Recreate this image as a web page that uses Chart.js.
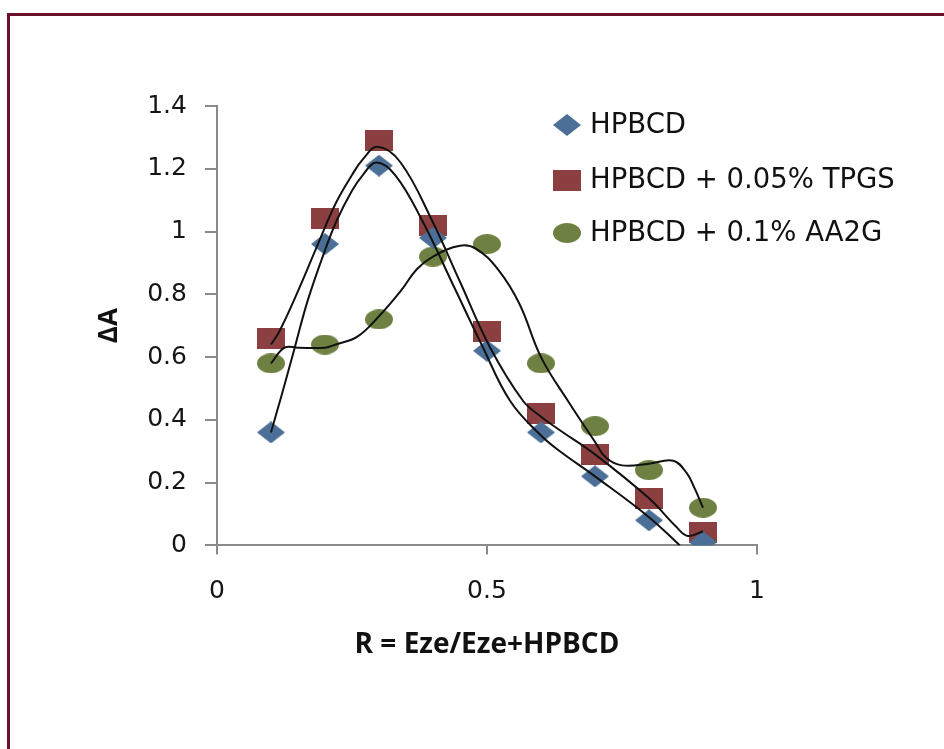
<!DOCTYPE html>
<html>
<head>
<meta charset="utf-8">
<script src="https://cdn.jsdelivr.net/npm/chart.js@4.4.1/dist/chart.umd.min.js"></script>
<style>
  html, body { margin: 0; padding: 0; background: #fff; }
  #wrap { position: relative; width: 944px; height: 749px; background: #fff; }
  #frame {
    position: absolute; left: 7px; top: 13px; right: 0; bottom: 0;
    border-top: 3px solid #6b0f2b; border-left: 3px solid #6b0f2b;
  }
  #chart { position: absolute; left: 0; top: 0; }
</style>
</head>
<body>
<div id="wrap">
  <div id="frame"></div>
  <canvas id="chart" width="944" height="749"></canvas>
</div>
<script>
// measured ratios R and absorbance change for each formulation
const rValues = [0.1, 0.2, 0.3, 0.4, 0.5, 0.6, 0.7, 0.8, 0.9];
const hpbcd = [0.36, 0.96, 1.21, 0.98, 0.62, 0.36, 0.22, 0.08, 0.01];
const hpbcdTpgs = [0.66, 1.04, 1.29, 1.02, 0.68, 0.42, 0.29, 0.15, 0.04];
const hpbcdAa2g = [0.58, 0.64, 0.72, 0.92, 0.96, 0.58, 0.38, 0.24, 0.12];

// fitted curves
const hpbcdFitR = [0.1, 0.12, 0.144, 0.168, 0.2, 0.222, 0.25, 0.27, 0.295, 0.33, 0.38, 0.44, 0.49, 0.543, 0.6, 0.635, 0.7, 0.8, 0.857];
const hpbcdFitA = [0.36, 0.48, 0.63, 0.78, 0.94, 1.036, 1.13, 1.18, 1.22, 1.18, 1.035, 0.82, 0.64, 0.46, 0.35, 0.30, 0.22, 0.09, 0.0];
const tpgsFitR = [0.1, 0.115, 0.15, 0.187, 0.22, 0.25, 0.27, 0.298, 0.34, 0.398, 0.45, 0.506, 0.567, 0.6, 0.635, 0.7, 0.8, 0.85, 0.872, 0.9];
const tpgsFitA = [0.64, 0.68, 0.81, 0.96, 1.09, 1.18, 1.23, 1.27, 1.22, 1.036, 0.84, 0.63, 0.46, 0.41, 0.367, 0.29, 0.15, 0.06, 0.03, 0.045];
const aa2gFitR = [0.1, 0.125, 0.15, 0.2, 0.22, 0.26, 0.3, 0.34, 0.37, 0.4, 0.45, 0.48, 0.52, 0.56, 0.6, 0.65, 0.7, 0.72, 0.75, 0.8, 0.845, 0.87, 0.885, 0.9];
const aa2gFitA = [0.58, 0.63, 0.63, 0.63, 0.64, 0.665, 0.73, 0.81, 0.88, 0.92, 0.955, 0.945, 0.88, 0.77, 0.6, 0.46, 0.33, 0.28, 0.255, 0.26, 0.27, 0.23, 0.18, 0.12];

const seriesNames = ['HPBCD', 'HPBCD + 0.05% TPGS', 'HPBCD + 0.1% AA2G'];
const xTickValues = [0, 0.5, 1];
const yTickValues = [0, 0.2, 0.4, 0.6, 0.8, 1, 1.2, 1.4];

function toPoints(xs, ys) {
  return xs.map((x, i) => ({ x: x, y: ys[i] }));
}

// wide markers drawn on small canvases
function makeMarker(shape, w, h, color) {
  const c = document.createElement('canvas');
  c.width = w;
  c.height = h;
  const g = c.getContext('2d');
  g.fillStyle = color;
  g.beginPath();
  if (shape === 'diamond') {
    g.moveTo(w / 2, 0);
    g.lineTo(w, h / 2);
    g.lineTo(w / 2, h);
    g.lineTo(0, h / 2);
    g.closePath();
  } else if (shape === 'square') {
    g.rect(0, 0, w, h);
  } else {
    g.ellipse(w / 2, h / 2, w / 2, h / 2, 0, 0, Math.PI * 2);
  }
  g.fill();
  return c;
}

const diamondImg = makeMarker('diamond', 28, 22, '#4b6f96');
const squareImg = makeMarker('square', 28, 21, '#8c3f40');
const ellipseImg = makeMarker('ellipse', 28, 20, '#6f8142');
const markers = [diamondImg, squareImg, ellipseImg];

function fitLine(xs, ys) {
  return {
    type: 'line',
    data: toPoints(xs, ys),
    borderColor: '#111',
    borderWidth: 2,
    pointRadius: 0,
    fill: false,
    tension: 0.4,
    clip: 0,
    order: 0,
  };
}

function pointSet(label, ys, img) {
  return {
    type: 'scatter',
    label: label,
    data: toPoints(rValues, ys),
    pointStyle: img,
    pointRadius: 12,
    showLine: false,
    order: 1,
  };
}

// legend drawn inside the plot, top right
const insideLegend = {
  id: 'insideLegend',
  afterDraw(chart) {
    const ctx = chart.ctx;
    const rows = [125, 180, 233];
    ctx.save();
    ctx.font = '27.5px "DejaVu Sans"';
    ctx.fillStyle = '#111';
    ctx.textBaseline = 'middle';
    seriesNames.forEach((name, i) => {
      const img = markers[i];
      ctx.drawImage(img, 567 - img.width / 2, rows[i] - img.height / 2);
      ctx.fillText(name, 590, rows[i] + 1);
    });
    ctx.restore();
  },
};

const tickFont = { family: '"DejaVu Sans"', size: 25 };

new Chart(document.getElementById('chart'), {
  data: {
    datasets: [
      fitLine(hpbcdFitR, hpbcdFitA),
      fitLine(tpgsFitR, tpgsFitA),
      fitLine(aa2gFitR, aa2gFitA),
      pointSet(seriesNames[0], hpbcd, diamondImg),
      pointSet(seriesNames[1], hpbcdTpgs, squareImg),
      pointSet(seriesNames[2], hpbcdAa2g, ellipseImg),
    ],
  },
  options: {
    responsive: false,
    animation: false,
    devicePixelRatio: 1,
    layout: { padding: { left: 64, right: 187, top: 106, bottom: 87 } },
    plugins: { legend: { display: false }, tooltip: { enabled: false } },
    scales: {
      x: {
        type: 'linear',
        min: 0,
        max: 1,
        afterBuildTicks: (axis) => { axis.ticks = xTickValues.map((v) => ({ value: v })); },
        ticks: { font: tickFont, color: '#151515', padding: 22, callback: (v) => String(v) },
        grid: { drawOnChartArea: false, drawTicks: true, tickLength: 9, color: '#8a8a8a', lineWidth: 2 },
        border: { color: '#8a8a8a', width: 2 },
        title: {
          display: true,
          text: 'R = Eze/Eze+HPBCD',
          font: { family: '"Open Sans"', size: 28, weight: 'bold' },
          color: '#111',
          padding: { top: 0, bottom: 0 },
        },
      },
      y: {
        type: 'linear',
        min: 0,
        max: 1.4,
        afterBuildTicks: (axis) => { axis.ticks = yTickValues.map((v) => ({ value: v })); },
        ticks: { font: tickFont, color: '#151515', padding: 18, callback: (v) => String(Number(v.toFixed(1))) },
        grid: { drawOnChartArea: false, drawTicks: true, tickLength: 12, color: '#8a8a8a', lineWidth: 2 },
        border: { color: '#8a8a8a', width: 2 },
        title: {
          display: true,
          text: 'ΔA',
          font: { family: '"Open Sans"', size: 26, weight: 'bold' },
          color: '#111',
          padding: { top: 30, bottom: 4 },
        },
      },
    },
  },
  plugins: [insideLegend],
});
</script>
</body>
</html>
